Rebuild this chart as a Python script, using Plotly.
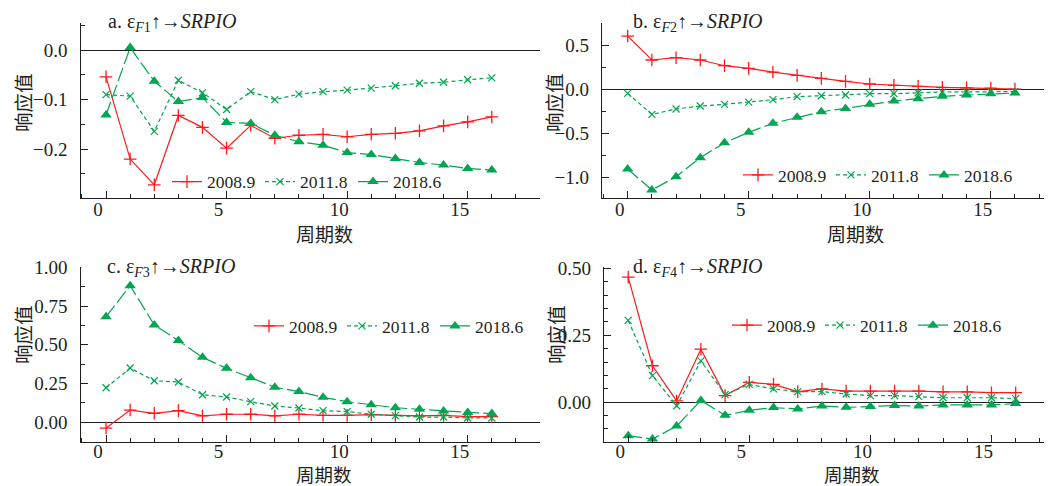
import plotly.graph_objects as go

periods = list(range(17))
series_names = ["2008.9", "2011.8", "2018.6"]

a_2008 = [-0.054, -0.220, -0.272, -0.132, -0.156, -0.198, -0.152, -0.178, -0.172,
          -0.170, -0.175, -0.170, -0.168, -0.163, -0.153, -0.145, -0.135]
a_2011 = [-0.090, -0.093, -0.164, -0.061, -0.086, -0.120, -0.084, -0.100, -0.089,
          -0.084, -0.081, -0.077, -0.072, -0.067, -0.065, -0.060, -0.056]
a_2018 = [-0.131, 0.005, -0.063, -0.104, -0.096, -0.146, -0.148, -0.172, -0.185,
          -0.192, -0.207, -0.211, -0.219, -0.227, -0.232, -0.239, -0.242]

b_2008 = [0.602, 0.330, 0.356, 0.330, 0.265, 0.235, 0.193, 0.155, 0.121,
          0.087, 0.057, 0.042, 0.030, 0.019, 0.013, 0.010, 0.000]
b_2011 = [-0.049, -0.288, -0.227, -0.193, -0.174, -0.148, -0.121, -0.087, -0.076,
          -0.068, -0.053, -0.053, -0.042, -0.034, -0.032, -0.030, -0.030]
b_2018 = [-0.909, -1.148, -0.996, -0.780, -0.610, -0.492, -0.390, -0.322, -0.258,
          -0.220, -0.174, -0.136, -0.110, -0.083, -0.068, -0.053, -0.045]

c_2008 = [-0.037, 0.079, 0.058, 0.075, 0.041, 0.052, 0.052, 0.041, 0.052,
          0.045, 0.045, 0.049, 0.045, 0.041, 0.045, 0.036, 0.036]
c_2011 = [0.223, 0.350, 0.268, 0.260, 0.178, 0.163, 0.133, 0.105, 0.092,
          0.075, 0.069, 0.052, 0.043, 0.034, 0.034, 0.028, 0.028]
c_2018 = [0.681, 0.881, 0.628, 0.527, 0.419, 0.348, 0.288, 0.226, 0.198,
          0.161, 0.133, 0.114, 0.094, 0.084, 0.073, 0.064, 0.056]

d_2008 = [0.468, 0.136, 0.004, 0.198, 0.024, 0.074, 0.066, 0.039, 0.049,
          0.041, 0.041, 0.041, 0.041, 0.038, 0.038, 0.035, 0.035]
d_2011 = [0.306, 0.099, -0.014, 0.154, 0.028, 0.066, 0.049, 0.039, 0.039,
          0.030, 0.024, 0.024, 0.020, 0.016, 0.016, 0.016, 0.013]
d_2018 = [-0.126, -0.139, -0.090, 0.006, -0.050, -0.031, -0.021, -0.026, -0.015,
          -0.020, -0.017, -0.013, -0.015, -0.011, -0.011, -0.011, -0.006]

panel_titles = ["a. ε<sub><i>F</i>1</sub>↑→<i>SRPIO</i>",
                "b. ε<sub><i>F</i>2</sub>↑→<i>SRPIO</i>",
                "c. ε<sub><i>F</i>3</sub>↑→<i>SRPIO</i>",
                "d. ε<sub><i>F</i>4</sub>↑→<i>SRPIO</i>"]
y_title = "响应值"
x_title = "周期数"
x_tickvals = [0, 5, 10, 15]

# The page body has an 8px margin, so the figure is sized to fill the
# remaining window and all positions below are given in window pixels.
OFF = 8
W, H = 1052 - OFF, 486 - OFF
RED = "#ff1a1a"
GREEN = "#00a651"
INK = "#231f20"
SERIF = "Liberation Serif"
CJK = "Noto Sans CJK SC"

def px_x(p):
    return (p - OFF) / W

def px_y(p):
    return 1 - (p - OFF) / H

panels = [
    dict(data=[a_2008, a_2011, a_2018], xdom=(80.5, 540), ydom=(23.3, 197.7),
         xr=[-1.06, 18.0], yr=[-0.298, 0.054], dt=0.1, mdt=0.05, fmt=".1f",
         leg=(167, 181.7), title=(106, 22.3), yt=(22, 103), xt=(324, 233), so=-6, xfs=19),
    dict(data=[b_2008, b_2011, b_2018], xdom=(602, 1052), ydom=(23.3, 197.7),
         xr=[-1.06, 17.53], yr=[-1.235, 0.747], dt=0.5, mdt=0.25, fmt=".1f",
         leg=(738, 175), title=(631, 22), yt=(553, 103), xt=(855, 233), so=-6, xfs=19),
    dict(data=[c_2008, c_2011, c_2018], xdom=(80.5, 540), ydom=(266.5, 442.3),
         xr=[-1.06, 18.0], yr=[-0.129, 1.005], dt=0.25, mdt=0.125, fmt=".2f",
         leg=(249, 326), title=(105, 267), yt=(22, 335), xt=(324, 474), so=-8, xfs=18.5),
    dict(data=[d_2008, d_2011, d_2018], xdom=(604, 1052), ydom=(267.3, 442.3),
         xr=[-1.0, 17.5], yr=[-0.151, 0.505], dt=0.25, mdt=0.05, fmt=".2f",
         leg=(727, 325.3), title=(631, 267), yt=(555, 335), xt=(852, 474), so=-8, xfs=18.5),
]

styles = [
    dict(line=dict(color=RED, width=1.2),
         marker=dict(symbol="cross-thin", size=9, line=dict(color=RED, width=1.3))),
    dict(line=dict(color=GREEN, width=1.2, dash="4px,3px"),
         marker=dict(symbol="x-thin", size=7, line=dict(color=GREEN, width=1.2))),
    dict(line=dict(color=GREEN, width=1.2, dash="14px,4px"),
         marker=dict(symbol="triangle-up", size=10, color=GREEN)),
]

fig = go.Figure()
layout = dict(
    width=W, height=H,
    margin=dict(l=0, r=0, t=0, b=0, autoexpand=False),
    paper_bgcolor="white", plot_bgcolor="white",
    font=dict(family=SERIF, size=19, color=INK),
    showlegend=True,
)
annotations = []

for i, p in enumerate(panels):
    k = "" if i == 0 else str(i + 1)
    xa, ya = "x" + k, "y" + k
    leg = "legend" + k
    for j, (vals, st) in enumerate(zip(p["data"], styles)):
        fig.add_trace(go.Scatter(
            x=periods, y=vals, name=series_names[j], mode="lines+markers",
            xaxis=xa, yaxis=ya, legend=leg, cliponaxis=False, **st))
    axis_common = dict(showline=True, linecolor=INK, linewidth=1.3, showgrid=False,
                       ticks="inside", tickcolor=INK, tickwidth=1.2, ticklen=7,
                       automargin=False,
                       tickfont=dict(family=SERIF, size=19, color=INK))
    layout["xaxis" + k] = dict(
        domain=[px_x(p["xdom"][0]), px_x(p["xdom"][1])], range=p["xr"],
        anchor=ya, zeroline=False, tickvals=x_tickvals,
        minor=dict(ticks="inside", dtick=1, tick0=0, ticklen=4, tickcolor=INK, tickwidth=1.1),
        ticklabelstandoff=p["so"], ticklabelshift=-8, **axis_common)
    layout["yaxis" + k] = dict(
        domain=[px_y(p["ydom"][1]), px_y(p["ydom"][0])], range=p["yr"],
        anchor=xa, zeroline=True, zerolinecolor=INK, zerolinewidth=1.1,
        dtick=p["dt"], tick0=0, tickformat=p["fmt"],
        minor=dict(ticks="inside", dtick=p["mdt"], tick0=0, ticklen=4, tickcolor=INK, tickwidth=1.1),
        ticklabelstandoff=8, **axis_common)
    layout[leg] = dict(
        orientation="h", x=px_x(p["leg"][0]), y=px_y(p["leg"][1]),
        xanchor="left", yanchor="middle", bgcolor="rgba(0,0,0,0)",
        font=dict(family=SERIF, size=17.5, color=INK), itemwidth=30,
        entrywidth=48, tracegroupgap=0)
    annotations.append(dict(
        text=panel_titles[i], x=px_x(p["title"][0]), y=px_y(p["title"][1]),
        xref="paper", yref="paper", xanchor="left", yanchor="middle",
        showarrow=False, font=dict(family=SERIF, size=20, color=INK)))
    annotations.append(dict(
        text=y_title, x=px_x(p["yt"][0]), y=px_y(p["yt"][1]), textangle=-90,
        xref="paper", yref="paper", xanchor="center", yanchor="middle",
        showarrow=False, font=dict(family=CJK, size=19.5, color=INK)))
    annotations.append(dict(
        text=x_title, x=px_x(p["xt"][0]), y=px_y(p["xt"][1]),
        xref="paper", yref="paper", xanchor="center", yanchor="middle",
        showarrow=False, font=dict(family=CJK, size=p["xfs"], color=INK)))

layout["annotations"] = annotations
fig.update_layout(**layout)
fig.write_html("out.html")
